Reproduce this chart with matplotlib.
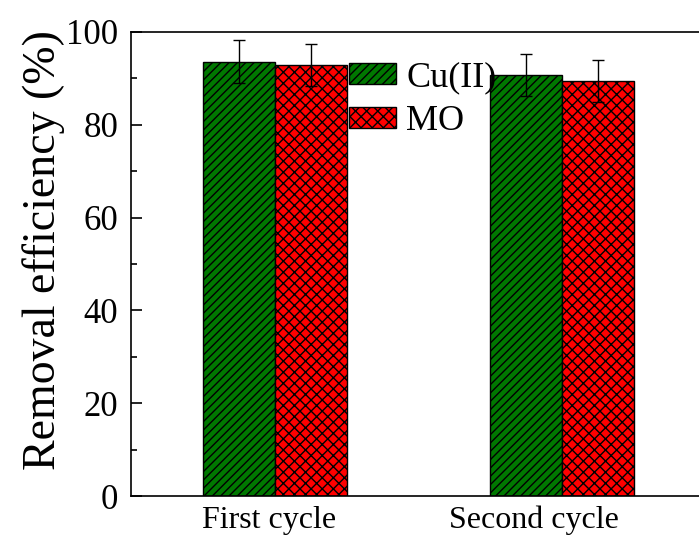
import numpy as np
from matplotlib import pyplot as plt
from matplotlib.ticker import MultipleLocator

plt.rcParams['font.family'] = ['Liberation Serif', 'DejaVu Serif']
plt.rcParams['hatch.linewidth'] = 1.0

cycles = ['First cycle', 'Second cycle']
cu = [93.6, 90.8]
cu_err = [4.6, 4.5]
mo = [92.9, 89.5]
mo_err = [4.6, 4.5]

fig = plt.figure(figsize=(6.99, 5.44), dpi=100)
ax = fig.add_axes([0.1874, 0.0882, 0.8226, 0.853])

x = np.arange(len(cycles))
w = 0.25
ax.bar(x - w / 2, cu, w, color='#007800', edgecolor='black', linewidth=1.0,
       hatch='////', label='Cu(II)')
ax.bar(x + w / 2, mo, w, color='#ff0000', edgecolor='black', linewidth=1.0,
       hatch='xxx', label='MO')
ax.errorbar(x - w / 2, cu, yerr=cu_err, fmt='none', ecolor='black',
            elinewidth=1.0, capsize=4.5, capthick=1.0)
ax.errorbar(x + w / 2, mo, yerr=mo_err, fmt='none', ecolor='black',
            elinewidth=1.0, capsize=4.5, capthick=1.0)

ax.set_xlim(-0.5, 1.5)
ax.set_ylim(0, 100)
ax.set_xticks([-0.02, 0.9])
ax.set_xticklabels(cycles, fontsize=23)
ax.tick_params(axis='x', length=0, pad=7)
ax.yaxis.set_major_locator(MultipleLocator(20))
ax.yaxis.set_minor_locator(MultipleLocator(10))
ax.tick_params(axis='y', which='major', direction='in', length=8, width=1.2,
               labelsize=25, pad=9)
ax.tick_params(axis='y', which='minor', direction='in', length=4, width=1.2)
for s in ax.spines.values():
    s.set_linewidth(1.2)

ax.set_ylabel('Removal efficiency (%)', fontsize=33)
ax.yaxis.set_label_coords(-0.115, 0.53)

ax.legend(loc='upper left', bbox_to_anchor=(0.354, 0.968), frameon=False,
          fontsize=26, handlelength=1.3, handleheight=0.5,
          handletextpad=0.28, labelspacing=0.3, borderaxespad=0)

fig.savefig('out.png', dpi=100)
